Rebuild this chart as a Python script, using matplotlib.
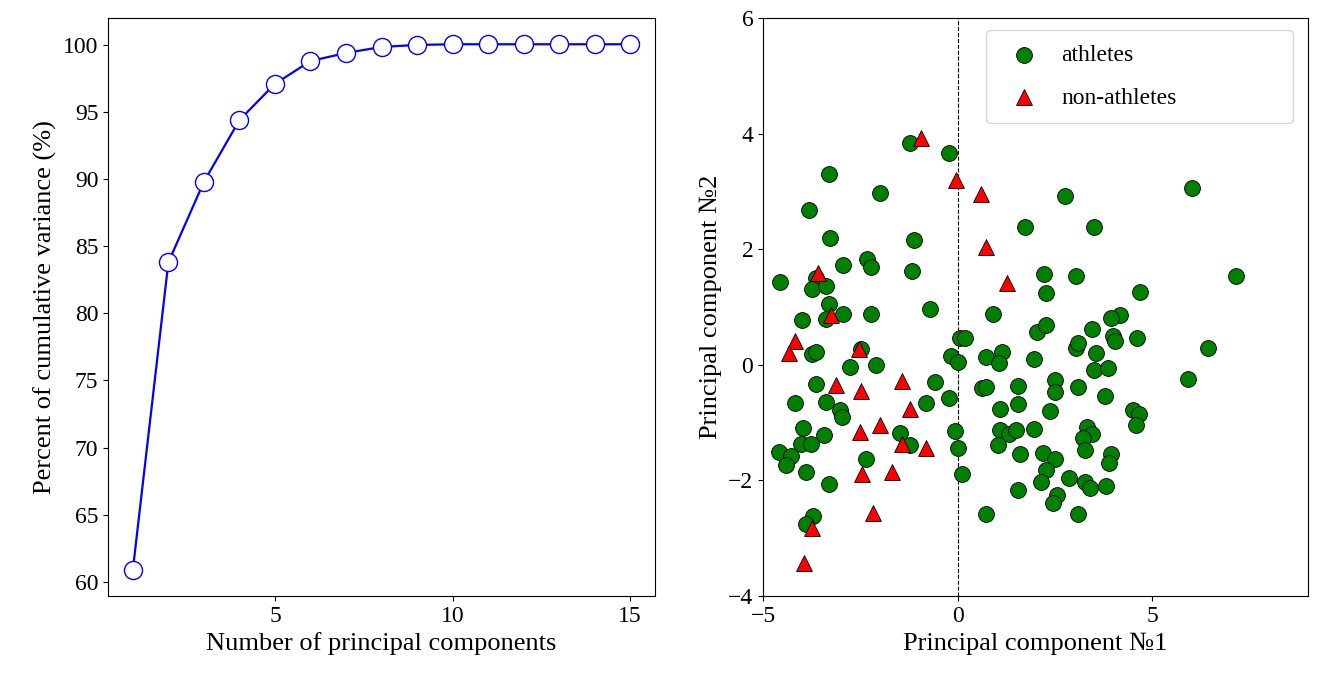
import matplotlib
matplotlib.use("Agg")
import matplotlib.pyplot as plt
import numpy as np

plt.rcParams['font.family'] = ['Liberation Serif', 'DejaVu Serif']

n_components = list(range(1, 16))
cum_var = [60.9, 83.8, 89.8, 94.4, 97.1, 98.8, 99.4, 99.85, 100.0, 100.05, 100.05, 100.05, 100.05, 100.05, 100.05]

ath_x = [-1.23, -0.21, -3.31, -2.00, -3.82, -3.28, -1.13, -2.33, -2.23, -2.95, -1.18, -4.56, -3.64, -3.74, -3.38,
         -3.31, -3.38, -2.95, -2.23, -4.00, -0.72, 0.05, -3.74, -3.64, -2.49, -0.18, 0.0, -2.77, -2.10, -3.64,
         -4.18, -3.38, -3.03, -2.97, -0.59, -0.23, -0.82, -3.97, -3.44, -1.49, -1.23, -4.03, -3.77, -4.59, -4.28,
         -4.41, -2.36, -3.90, -3.31, -3.72, -3.90, -0.08, 0.0, 0.10, 6.03, 2.77, 1.74, 3.49, 7.15, 2.23,
         3.03, 2.28, 4.69, 0.90, 2.05, 2.28, 4.18, 3.95, 3.46, 0.18, 3.05, 3.08, 4.00, 4.05, 4.62,
         6.44, 3.56, 0.74, 1.15, 1.05, 1.95, 3.51, 3.85, 5.92, 0.62, 0.72, 1.56, 2.51, 2.51, 3.10,
         3.79, 1.08, 1.54, 2.38, 4.51, 4.67, 4.59, 1.08, 1.31, 1.51, 1.95, 3.33, 3.46, 3.21, 1.03,
         3.26, 1.59, 2.18, 2.49, 3.95, 3.90, 2.28, 2.13, 2.85, 3.26, 3.41, 3.82, 1.54, 2.54, 2.46,
         0.74, 3.08]
ath_y = [3.84, 3.67, 3.30, 2.98, 2.68, 2.20, 2.16, 1.83, 1.70, 1.73, 1.63, 1.44, 1.51, 1.31, 1.37,
         1.06, 0.80, 0.88, 0.88, 0.78, 0.97, 0.47, 0.19, 0.22, 0.28, 0.16, 0.05, -0.03, 0.0, -0.33,
         -0.66, -0.64, -0.78, -0.90, -0.29, -0.57, -0.66, -1.09, -1.21, -1.18, -1.38, -1.37, -1.37, -1.51, -1.57,
         -1.73, -1.63, -1.85, -2.06, -2.61, -2.75, -1.14, -1.44, -1.89, 3.06, 2.92, 2.39, 2.39, 1.54, 1.57,
         1.54, 1.25, 1.26, 0.88, 0.57, 0.69, 0.87, 0.81, 0.62, 0.47, 0.29, 0.38, 0.50, 0.42, 0.47,
         0.29, 0.21, 0.14, 0.22, 0.03, 0.10, -0.09, -0.05, -0.24, -0.40, -0.38, -0.36, -0.26, -0.47, -0.38,
         -0.54, -0.76, -0.67, -0.80, -0.78, -0.85, -1.04, -1.12, -1.19, -1.12, -1.11, -1.07, -1.19, -1.26, -1.38,
         -1.47, -1.54, -1.52, -1.63, -1.54, -1.70, -1.82, -2.02, -1.96, -2.02, -2.13, -2.09, -2.16, -2.25, -2.39,
         -2.58, -2.58]

non_x = [-0.95, -0.05, 0.59, 0.74, 1.26, -3.59, -3.26, -4.18, -4.33, -2.54, -3.13, -2.49, -1.44, -1.23, -2.0,
         -2.51, -1.44, -0.82, -2.46, -1.69, -2.18, -3.74, -3.95]
non_y = [3.93, 3.20, 2.96, 2.04, 1.42, 1.59, 0.87, 0.42, 0.21, 0.28, -0.35, -0.45, -0.28, -0.76, -1.04,
         -1.16, -1.37, -1.44, -1.89, -1.85, -2.56, -2.82, -3.43]

fig = plt.figure(figsize=(13.34, 6.78), dpi=100)
ax1 = fig.add_axes([108/1334, 1-596/678, 547/1334, 578/678])
ax2 = fig.add_axes([763/1334, 1-596/678, 545/1334, 578/678])

ax1.plot(n_components, cum_var, color='blue', marker='o', markersize=13,
         markerfacecolor='white', markeredgecolor='blue', lw=1.6)
ax1.set_xlabel('Number of principal components', fontsize=19)
ax1.set_ylabel('Percent of cumulative variance (%)', fontsize=19)
ax1.set_xticks([5, 10, 15])
ax1.set_yticks(range(60, 101, 5))
ax1.tick_params(labelsize=17)

ax2.axvline(0, color='black', ls='--', lw=0.8)
ax2.scatter(ath_x, ath_y, s=130, c='green', edgecolors='black', linewidths=0.6, label='athletes', zorder=3)
ax2.scatter(non_x, non_y, s=130, c='red', marker='^', edgecolors='black', linewidths=0.6, label='non-athletes', zorder=3)
ax2.set_xlim(-5, 9)
ax2.set_ylim(-4, 6)
ax2.set_xticks([-5, 0, 5])
ax2.set_yticks(range(-4, 7, 2))
ax2.set_xlabel('Principal component №1', fontsize=19)
ax2.set_ylabel('Principal component №2', fontsize=19)
ax2.tick_params(labelsize=17)
ax2.legend(loc='upper left', bbox_to_anchor=(0.409, 0.804, 0.563, 0.175), mode='expand',
           fontsize=17, borderpad=0.6, labelspacing=0.9, handletextpad=0.6, borderaxespad=0)

fig.savefig('out.png', dpi=100)
